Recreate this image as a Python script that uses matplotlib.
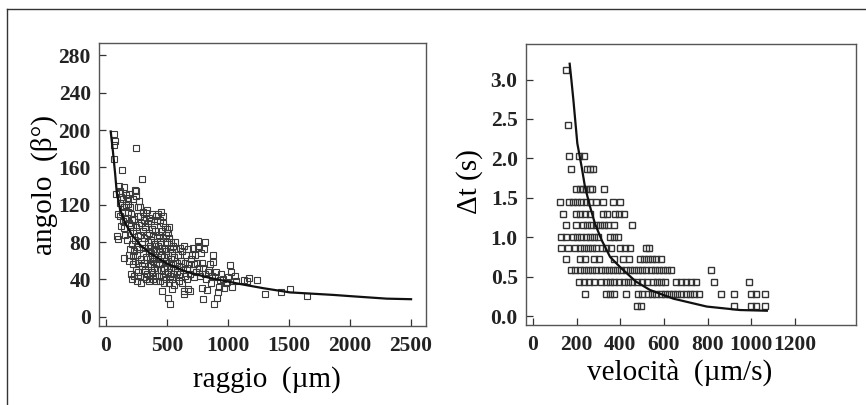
import matplotlib.pyplot as plt
from matplotlib.lines import Line2D
import numpy as np

# ------------------------------------------------------------
# pannello sinistro: angolo (beta) in funzione del raggio (um)
# ------------------------------------------------------------
raggio = [
    66, 68, 74, 66, 82, 93, 96, 100, 104, 107, 115, 115, 118, 123, 126, 128, 134, 147, 138, 150,
    142, 145, 148, 152, 155,
    160, 165, 168, 170, 178, 178, 183, 185, 188, 189, 192, 195, 198, 200, 202, 205, 208, 210, 212, 215,
    218, 220, 222, 225, 228, 230, 232, 236, 238, 240, 242, 243, 246, 246, 248, 250, 254, 256, 258, 262,
    262, 264, 266, 273, 270,
    272, 279, 278, 280, 282, 285, 288, 290, 292, 295, 298, 300, 302, 305, 308, 310, 312, 315, 318, 320,
    322, 325, 326, 330, 332, 334, 338, 340, 342, 345, 348, 350, 352, 355, 358, 360, 362, 365, 368, 370,
    372, 375, 378, 380, 382, 385, 388, 390, 392, 395, 397, 400, 402, 404, 406, 408, 410, 412, 414, 416,
    420, 422, 425, 428, 430, 432, 435, 438, 440, 442, 445, 448, 450, 452, 455, 458, 460, 462, 465, 468,
    470, 472, 475, 478, 480, 482, 485, 488, 490, 492, 495, 498, 500, 502, 505, 508, 511, 512, 515, 518,
    520, 522, 525, 528, 530, 532, 535, 538, 540, 542, 545, 548, 550, 505, 470,
    555, 560, 565, 568, 572, 575, 580, 585, 590, 595, 600, 605, 610, 615, 620, 625, 630, 635, 640, 642,
    645, 650, 655, 660, 665, 670, 675, 680, 685, 690, 700, 705, 710, 715, 720, 725, 730, 740, 745, 752,
    757, 760, 765, 770, 775,
    784, 790, 798, 798, 806, 810, 815, 820, 830, 835, 841, 850, 860, 870, 880, 880, 882, 897, 900, 907,
    918, 925, 934, 945, 960, 967, 980, 989, 1000, 1016,
    1022, 1033, 1055, 1065, 1131, 1158, 1170, 1234, 1301, 1436, 1511, 1648,
]
angolo = [
    184, 196, 188, 169, 132, 86, 83, 110, 140, 133, 135, 122, 108, 128, 97, 112, 157, 139, 102, 63,
    126, 118, 95, 105, 88,
    130, 120, 106, 82, 127, 121, 112, 100, 66, 132, 60, 90, 118, 72, 46, 110, 98, 40, 78, 104,
    126, 65, 56, 92, 44, 105, 70, 136, 82, 60, 50, 129, 181, 135, 96, 38, 75, 66, 108, 118,
    86, 48, 58, 124, 98,
    72, 118, 108, 44, 88, 62, 100, 36, 78, 54, 148, 112, 68, 92, 42, 84, 104, 58, 50, 96,
    74, 111, 40, 64, 88, 114, 46, 80, 54, 100, 70, 106, 38, 90, 62, 76, 44, 102, 56, 82,
    68, 48, 94, 110, 60, 40, 86, 72, 52, 98, 64, 78, 44, 92, 58, 108, 70, 38, 84, 50,
    102, 62, 76, 110, 44, 88, 56, 70, 104, 38, 80, 50, 112, 66, 28, 92, 58, 74, 42, 100,
    84, 52, 64, 36, 96, 72, 46, 60, 88, 40, 70, 54, 94, 80, 48, 66, 20, 84, 36, 58,
    96, 44, 72, 14, 62, 52, 80, 40, 68, 30, 56, 76, 46, 90, 108,
    64, 34, 80, 52, 42, 72, 58, 48, 66, 38, 54, 74, 46, 60, 36, 70, 50, 24, 76, 28,
    58, 44, 66, 52, 40, 30, 72, 56, 28, 46, 62, 66, 50, 74, 42, 56, 66, 48, 58, 81,
    74, 76, 52, 44, 68,
    31, 58, 52, 19, 72, 80, 46, 40, 29, 48, 50, 56, 36, 44, 66, 59, 14, 43, 48, 20,
    26, 32, 39, 46, 40, 31, 36, 37, 43, 55,
    48, 32, 44, 38, 39, 38, 41, 39, 24, 26, 30, 22,
]
# curva di fit
fit_raggio = [38, 55, 74, 88, 115, 156, 210, 279, 361, 497, 661, 852, 1098, 1289, 1508, 1863, 2000, 2300, 2500]
fit_angolo = [198.5, 179, 154, 133, 115, 100.5, 88, 77, 68, 57, 48, 41.5, 35, 30.5, 26, 23.3, 22, 19.3, 18.7]

# ------------------------------------------------------------
# pannello destro: delta t (s) in funzione della velocita (um/s)
# i punti stanno su livelli discreti di delta t
# ------------------------------------------------------------
dt_livelli = [3.12, 2.42, 2.03, 1.86, 1.61, 1.44, 1.29, 1.15, 1.00, 0.86, 0.72, 0.59, 0.43, 0.275, 0.13]
vel_righe = [
    [150],
    [160],
    [165, 209, 232],
    [176, 248, 260, 275],
    [198, 214, 229, 244, 260, 272, 324],
    [125, 165, 183, 202, 221, 244, 260, 287, 321, 366, 400],
    [137, 198, 217, 238, 260, 321, 339, 374, 394, 415],
    [150, 195, 229, 247, 267, 287, 305, 324, 344, 369, 455],
    [130, 150, 183, 202, 221, 241, 260, 278, 298, 351, 371, 391],
    [127, 160, 194, 214, 232, 252, 272, 290, 318, 336, 359, 400, 420, 443, 519, 531],
    [150, 214, 237, 279, 301, 369, 412, 440, 489, 507, 527, 547, 565, 585],
    [176, 194, 214, 232, 252, 272, 290, 310, 328, 348, 366, 386, 405, 424, 443, 463, 481, 501, 519,
     539, 557, 577, 595, 615, 634, 817],
    [209, 232, 255, 279, 313, 333, 353, 373, 392, 415, 435, 455, 476, 501, 522, 550, 568, 588, 606,
     656, 679, 702, 725, 748, 829, 989],
    [240, 333, 351, 371, 424, 481, 501, 527, 547, 565, 585, 603, 623, 641, 661, 679, 699, 718, 737,
     759, 863, 921, 1000, 1020, 1061],
    [477, 496, 921, 1000, 1020, 1061],
]
fit_vel = [168, 176, 185, 203, 223, 238, 261, 284, 315, 353, 399, 470, 536, 643, 796, 948, 1071]
fit_dt = [3.20, 2.99, 2.74, 2.19, 1.89, 1.64, 1.39, 1.17, 0.96, 0.75, 0.62, 0.44, 0.33, 0.22, 0.12, 0.076, 0.067]

vel = np.concatenate([np.array(r, dtype=float) for r in vel_righe])
dt = np.concatenate([np.full(len(r), lv) for r, lv in zip(vel_righe, dt_livelli)])

# ------------------------------------------------------------
plt.rcParams['font.family'] = ['Liberation Serif', 'DejaVu Serif']

fig = plt.figure(figsize=(8.66, 4.05), dpi=100)
ax1 = fig.add_axes([0.1147, 0.1951, 0.3773, 0.698])
ax2 = fig.add_axes([0.6074, 0.1975, 0.3807, 0.6938])

# cornice esterna (parzialmente tagliata)
fig.add_artist(Line2D([7 / 866, 1.0], [1 - 9 / 405, 1 - 9 / 405], transform=fig.transFigure,
                      color='#333333', lw=1.0))
fig.add_artist(Line2D([7 / 866, 7 / 866], [0.0, 1 - 9 / 405], transform=fig.transFigure,
                      color='#333333', lw=1.0))

ax1.plot(raggio, angolo, ls='none', marker='s', mfc='none', mec='#3a3a3a', ms=4.0, mew=0.8)
ax1.plot(fit_raggio, fit_angolo, color='#111111', lw=1.6)
ax1.set_xlim(-55, 2623)
ax1.set_ylim(-10, 293)
ax1.set_xticks([0, 500, 1000, 1500, 2000, 2500])
ax1.set_xticklabels(['0', '500', '1000', '1500', '2000', '2500'], fontweight='bold')
ax1.set_yticks(range(0, 281, 40))
ax1.set_yticklabels([str(v) for v in range(0, 281, 40)], fontweight='bold')
ax1.set_xlabel('raggio  (\u00b5m)', fontsize=21)
ax1.set_ylabel('angolo  (\u03b2\u00b0)', fontsize=21)
ax1.xaxis.set_label_coords(0.513, -0.142)
ax1.yaxis.set_label_coords(-0.127, 0.5)

ax2.plot(vel, dt, ls='none', marker='s', mfc='none', mec='#333333', ms=4.2, mew=1.0)
ax2.plot(fit_vel, fit_dt, color='#111111', lw=1.6)
ax2.set_xlim(-32, 1478)
ax2.set_ylim(-0.114, 3.45)
ax2.set_xticks(range(0, 1201, 200))
ax2.set_xticklabels([str(v) for v in range(0, 1201, 200)], fontweight='bold')
ax2.set_yticks([0, 0.5, 1.0, 1.5, 2.0, 2.5, 3.0])
ax2.set_yticklabels(['0.0', '0.5', '1.0', '1.5', '2.0', '2.5', '3.0'], fontweight='bold')
ax2.set_xlabel('velocit\u00e0  (\u00b5m/s)', fontsize=21)
ax2.set_ylabel('\u0394t (s)', fontsize=21)
ax2.xaxis.set_label_coords(0.467, -0.12)
ax2.yaxis.set_label_coords(-0.13, 0.509)

for ax in (ax1, ax2):
    for s in ax.spines.values():
        s.set_color('#555555')
        s.set_linewidth(1.0)
    ax.tick_params(direction='in', length=5, width=0.9, color='#333333',
                   labelsize=15.5, labelcolor='#222222', top=False, right=False)
    ax.tick_params(axis='x', pad=7)
    ax.tick_params(axis='y', pad=6)

fig.savefig('out.png', dpi=100)
